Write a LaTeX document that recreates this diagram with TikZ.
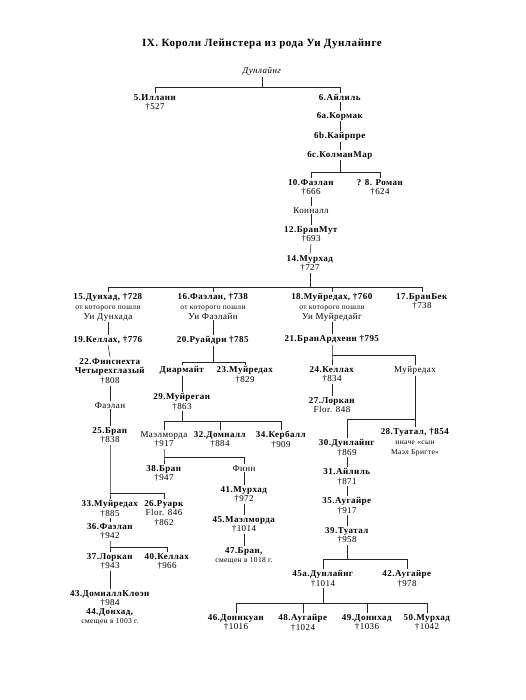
\documentclass[tikz,border=0pt]{standalone}
\usepackage{fontspec}
\setmainfont[LetterSpace=5]{Liberation Serif}
\newcommand\pname[1]{\textbf{#1}}
\newcommand\psmall[1]{{\fontsize{7.5}{9}\selectfont #1}}
\begin{document}
\begin{tikzpicture}[x=1pt,y=-1pt,
  person/.style={anchor=north,align=center,inner sep=1pt,font=\fontsize{9}{9.8}\selectfont},
  link/.style={draw=black!85,line width=0.55pt}]
\useasboundingbox[fill=white] (0,0) rectangle (526,700);
\node[font=\fontsize{11}{13}\selectfont\bfseries] (title) at (262,44) {IX. Короли Лейнстера из рода Уи Дунлайнге};
\node[person] (dun) at (262,66) {\textit{Дунлайнг}};
\node[person] (n5) at (155,93) {\pname{5.Илланн}\\†527};
\node[person] (n6) at (340,93) {\pname{6.Айлиль}};
\node[person] (n6a) at (340,111) {\pname{6a.Кормак}};
\node[person] (n6b) at (340,131) {\pname{6b.Кайрпре}};
\node[person] (n6c) at (340,150) {\pname{6c.КолманМар}};
\node[person] (n10) at (311,178) {\pname{10.Фаэлан}\\†666};
\node[person] (n8) at (380,178) {\pname{? 8. Роман}\\†624};
\node[person] (konn) at (311,206) {Конналл};
\node[person] (n12) at (311,225) {\pname{12.БранМут}\\†693};
\node[person] (n14) at (310,254) {\pname{14.Мурхад}\\†727};
\node[person] (n15) at (108,292) {\pname{15.Дунхад, †728}\\\psmall{от которого пошли}\\Уи Дунхада};
\node[person] (n16) at (213,292) {\pname{16.Фаэлан, †738}\\\psmall{от которого пошли}\\Уи Фаэлайн};
\node[person] (n18) at (332,292) {\pname{18.Муйредах, †760}\\\psmall{от которого пошли}\\Уи Муйредайг};
\node[person] (n17) at (422,292) {\pname{17.БранБек}\\†738};
\node[person] (n19) at (108,335) {\pname{19.Келлах, †776}};
\node[person] (n20) at (213,335) {\pname{20.Руайдри †785}};
\node[person] (n21) at (332,334) {\pname{21.БранАрдхенн †795}};
\node[person] (n22) at (110,357) {\pname{22.Финснехта}\\\pname{Четырехглазый}\\†808};
\node[person] (fael) at (110,401) {Фаэлан};
\node[person] (n25) at (110,426) {\pname{25.Бран}\\†838};
\node[person] (diar) at (182,365) {\pname{Диармайт}};
\node[person] (n23) at (245,365) {\pname{23.Муйредах}\\†829};
\node[person] (n29) at (182,392) {\pname{29.Муйреган}\\†863};
\node[person] (mael) at (164,430) {Маэлморда\\†917};
\node[person] (n32) at (220,430) {\pname{32.Домналл}\\†884};
\node[person] (n34) at (281,430) {\pname{34.Кербалл}\\†909};
\node[person] (n38) at (164,464) {\pname{38.Бран}\\†947};
\node[person] (finn) at (244,464) {Финн};
\node[person] (n41) at (244,485) {\pname{41.Мурхад}\\†972};
\node[person] (n45) at (244,515) {\pname{45.Маэлморда}\\†1014};
\node[person] (n47) at (244,546) {\pname{47.Бран,}\\\psmall{смещен в 1018 г.}};
\node[person] (n33) at (110,499) {\pname{33.Муйредах}\\†885};
\node[person] (n26) at (164,499) {\pname{26.Руарк}\\Flor. 846\\†862};
\node[person] (n36) at (110,522) {\pname{36.Фаэлан}\\†942};
\node[person] (n37) at (110,552) {\pname{37.Лоркан}\\†943};
\node[person] (n40) at (167,552) {\pname{40.Келлах}\\†966};
\node[person] (n43) at (110,589) {\pname{43.ДомналлКлоэн}\\†984};
\node[person] (n44) at (110,607) {\pname{44.Донхад,}\\\psmall{смещен в 1003 г.}};
\node[person] (n24) at (332,365) {\pname{24.Келлах}\\†834};
\node[person] (muir) at (415,365) {Муйредах};
\node[person] (n27) at (332,396) {\pname{27.Лоркан}\\Flor. 848};
\node[person] (n28) at (415,427) {\pname{28.Туатал, †854}\\\psmall{иначе «сын}\\\psmall{Маэл Бригте»}};
\node[person] (n30) at (347,438) {\pname{30.Дунлайнг}\\†869};
\node[person] (n31) at (347,467) {\pname{31.Айлиль}\\†871};
\node[person] (n35) at (347,496) {\pname{35.Аугайре}\\†917};
\node[person] (n39) at (347,526) {\pname{39.Туатал}\\†958};
\node[person] (n45a) at (323,569) {\pname{45a.Дунлайнг}\\†1014};
\node[person] (n42) at (407,569) {\pname{42.Аугайре}\\†978};
\node[person] (n46) at (236,613) {\pname{46.Доннкуан}\\†1016};
\node[person] (n48) at (303,613) {\pname{48.Аугайре}\\†1024};
\node[person] (n49) at (367,613) {\pname{49.Доннхад}\\†1036};
\node[person] (n50) at (427,613) {\pname{50.Мурхад}\\†1042};
% bus coordinates
\coordinate (bDun) at (262,87);
\coordinate (b6c) at (340,172);
\coordinate (b14) at (310,287);
\coordinate (b20) at (213,362);
\coordinate (b21) at (332,355);
\coordinate (b29) at (182,421);
\coordinate (bMael) at (164,457);
\coordinate (b25) at (110,493);
\coordinate (b36) at (110,547);
\coordinate (bMuir) at (415,419);
\coordinate (b39) at (347,559);
\coordinate (b45a) at (323,603);
\begin{scope}[link]
\draw (dun.south) -- (bDun) -| (n5.north);
\draw (bDun) -| (n6.north);
\draw (n6.south) -- (n6a.north);
\draw (n6a.south) -- (n6b.north);
\draw (n6b.south) -- (n6c.north);
\draw (n6c.south) -- (b6c) -| (n10.north);
\draw (b6c) -| (n8.north);
\draw (n10.south) -- (konn.north);
\draw (konn.south) -- (n12.north);
\draw (n12.south) -- (n14.north);
\draw (n14.south) -- (b14) -| (n15.north);
\draw (b14) -| (n16.north);
\draw (b14) -| (n18.north);
\draw (b14) -| (n17.north);
\draw (n15.south) -- (n19.north);
\draw (n19.south) -- (n22.north);
\draw (n22.south) -- (fael.north);
\draw (fael.south) -- (n25.north);
\draw (n16.south) -- (n20.north);
\draw (n20.south) -- (b20) -| (diar.north);
\draw (b20) -| (n23.north);
\draw (diar.south) -- (n29.north);
\draw (n29.south) -- (b29) -| (mael.north);
\draw (b29) -| (n32.north);
\draw (b29) -| (n34.north);
\draw (mael.south) -- (bMael) -- (n38.north);
\draw (bMael) -| (finn.north);
\draw (finn.south) -- (n41.north);
\draw (n41.south) -- (n45.north);
\draw (n45.south) -- (n47.north);
\draw (n25.south) -- (b25) -- (n33.north);
\draw (b25) -| (n26.north);
\draw (n33.south) -- (n36.north);
\draw (n36.south) -- (b36) -- (n37.north);
\draw (b36) -| (n40.north);
\draw (n37.south) -- (n43.north);
\draw (n43.south) -- (n44.north);
\draw (n18.south) -- (n21.north);
\draw (n21.south) -- (b21) -- (n24.north);
\draw (b21) -| (muir.north);
\draw (n24.south) -- (n27.north);
\draw (muir.south) -- (n28.north);
\draw (bMuir) -| (n30.north);
\draw (n30.south) -- (n31.north);
\draw (n31.south) -- (n35.north);
\draw (n35.south) -- (n39.north);
\draw (n39.south) -- (b39) -| (n45a.north);
\draw (b39) -| (n42.north);
\draw (n45a.south) -- (b45a) -| (n46.north);
\draw (b45a) -| (n48.north);
\draw (b45a) -| (n49.north);
\draw (b45a) -| (n50.north);
\end{scope}
\end{tikzpicture}
\end{document}
